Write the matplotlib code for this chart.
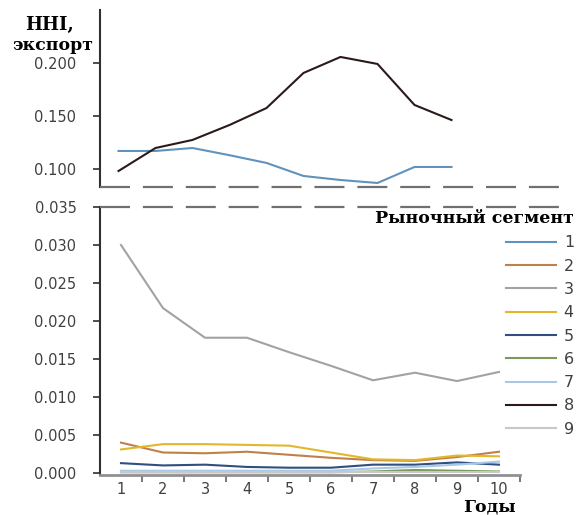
import matplotlib
matplotlib.use('Agg')
import matplotlib.pyplot as plt
from matplotlib.lines import Line2D

years = [1, 2, 3, 4, 5, 6, 7, 8, 9, 10]
segments = ['1', '2', '3', '4', '5', '6', '7', '8', '9']
s1 = [0.1170, 0.1170, 0.1198, 0.1130, 0.1057, 0.0934, 0.0896, 0.0868, 0.1019, 0.1019]
s2 = [0.0040, 0.0027, 0.0026, 0.0028, 0.0024, 0.0020, 0.0017, 0.0016, 0.0021, 0.0028]
s3 = [0.0300, 0.0217, 0.0178, 0.0178, 0.0159, 0.0141, 0.0122, 0.0132, 0.0121, 0.0133]
s4 = [0.0031, 0.0038, 0.0038, 0.0037, 0.0036, 0.0027, 0.0018, 0.0017, 0.0023, 0.0022]
s5 = [0.0013, 0.0010, 0.0011, 0.0008, 0.0007, 0.0007, 0.0011, 0.0011, 0.0014, 0.0011]
s6 = [0.0001, 0.0001, 0.0001, 0.0001, 0.0001, 0.0001, 0.0002, 0.0004, 0.0003, 0.0002]
s7 = [0.0003, 0.0003, 0.0003, 0.0003, 0.0003, 0.0003, 0.0006, 0.0008, 0.0011, 0.0015]
s8 = [0.0981, 0.1198, 0.1274, 0.1415, 0.1575, 0.1906, 0.2057, 0.1991, 0.1604, 0.1462]
s9 = [0.0001, 0.0001, 0.0001, 0.0001, 0.0001, 0.0001, 0.0001, 0.0001, 0.0001, 0.0001]
series = [s1, s2, s3, s4, s5, s6, s7, s8, s9]
colors = ['#5f93bd', '#c0804a', '#a2a2a2', '#e3b72c', '#2f4f80',
          '#7a9a5a', '#a9c8e6', '#2b1a1a', '#c8c8c8']
top_ticks = [0.100, 0.150, 0.200]
bot_ticks = [0.000, 0.005, 0.010, 0.015, 0.020, 0.025, 0.030, 0.035]

W, H = 582, 515
fig = plt.figure(figsize=(W / 100, H / 100), dpi=100)
TXT = '#404040'
serif_b = dict(family='DejaVu Serif', weight='bold')

def fx(px):
    return px / W

def fy(py):
    return 1 - py / H

axt = fig.add_axes([fx(100), fy(187), fx(370), (187 - 10) / H])
axb = fig.add_axes([fx(100), fy(475), fx(420), (475 - 207) / H])

handles = []
for s, c in zip(series, colors):
    axt.plot(years, s, color=c, lw=1.5, solid_joinstyle='round')
    l, = axb.plot(years, s, color=c, lw=1.5, solid_joinstyle='round')
    handles.append(l)

axt.set_xlim(0.5, 10.5)
axt.set_ylim(0.083, 0.25)
axt.set_yticks(top_ticks)
axt.set_yticklabels([f'{v:.3f}' for v in top_ticks])
axt.set_xticks([])
for sp in ['top', 'right', 'bottom']:
    axt.spines[sp].set_visible(False)

axb.set_xlim(0.5, 10.5)
axb.set_ylim(-0.00026, 0.035)
axb.set_yticks(bot_ticks)
axb.set_yticklabels([f'{v:.3f}' for v in bot_ticks])
axb.set_xticks(years)
axb.set_xticklabels([str(y) for y in years])
axb.set_xticks([y + 0.5 for y in years], minor=True)
axb.tick_params(axis='x', which='major', length=0, pad=5)
axb.tick_params(axis='x', which='minor', length=5, width=1.2, color='#606060')
for sp in ['top', 'right']:
    axb.spines[sp].set_visible(False)
axb.spines['bottom'].set_color('#909090')
axb.spines['bottom'].set_linewidth(2)

for ax in (axt, axb):
    ax.spines['left'].set_color('#303030')
    ax.spines['left'].set_linewidth(1.5)
    ax.tick_params(axis='y', length=5, width=1.2, color='#303030', pad=12,
                   labelsize=10.5, labelcolor=TXT)
    ax.tick_params(axis='x', labelsize=10.5, labelcolor=TXT)
    ax.patch.set_alpha(0)

for py in (187, 207):
    fig.add_artist(Line2D([fx(100), fx(570)], [fy(py), fy(py)], color='#707070',
                          lw=1.6, dashes=(13.5, 5.8), transform=fig.transFigure))

fig.text(fx(50), fy(25), 'HHI,', ha='center', va='center', fontsize=13, **serif_b)
fig.text(fx(53), fy(46), 'экспорт', ha='center', va='center', fontsize=12.5, **serif_b)
fig.text(fx(489), fy(507), 'Годы', ha='center', va='center', fontsize=12.5, **serif_b)

leg = fig.legend(handles, segments, loc='upper right',
                 bbox_to_anchor=(fx(574), fy(210)), frameon=False,
                 title='Рыночный сегмент',
                 title_fontproperties=dict(family='DejaVu Serif', weight='bold', size=12.5),
                 alignment='right', handlelength=3.1, handletextpad=0.5,
                 labelspacing=0.52, fontsize=11.5, borderaxespad=0, borderpad=0)
for t in leg.get_texts():
    t.set_color(TXT)

fig.savefig('out.png', dpi=100)
